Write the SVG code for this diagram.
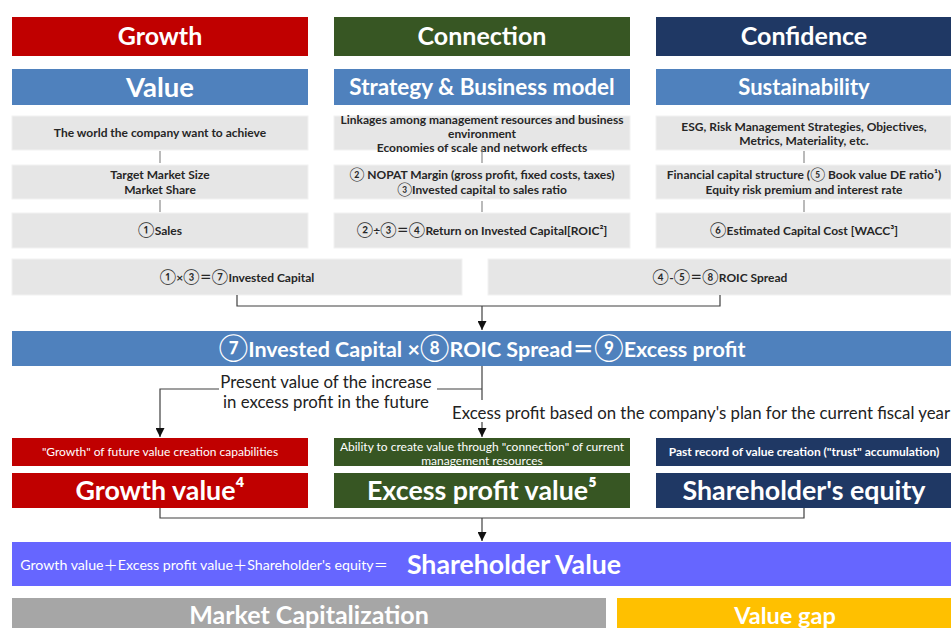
<svg xmlns="http://www.w3.org/2000/svg" width="951" height="628" viewBox="0 0 951 628">
<defs>
<marker id="arr" viewBox="0 0 10 10" refX="10" refY="5" markerWidth="9" markerHeight="9" markerUnits="userSpaceOnUse" orient="auto">
<path d="M0,0 L10,5 L0,10 z" fill="#111"/>
</marker>
<style>
text{font-family:Lato,"Liberation Sans","Noto Sans CJK JP",sans-serif;text-anchor:middle}
.w{fill:#fff;font-weight:bold}
.g{fill:#262626;font-weight:bold;font-size:12px}
.c{font-size:112%;font-weight:normal}
.cb{font-size:125%;font-weight:normal}
.gray{fill:#e6e6e6;stroke:#f2f2f2;stroke-width:1}
.red{fill:#c00000}
.grn{fill:#375623}
.nvy{fill:#1f3864}
.blu{fill:#4f81bd}
.con{fill:none;stroke:#404040;stroke-width:1.2}
.stub{stroke:#8c8c8c;stroke-width:1.2}
.lbl{fill:#222;font-size:16.8px}
.sub{fill:#fff;font-size:12px}
</style>
</defs>
<rect width="951" height="628" fill="#fff"/>

<g id="growth-header"><rect class="red" x="12" y="17" width="296" height="39"/><text class="w" x="160" y="45" font-size="25">Growth</text></g>
<g id="connection-header"><rect class="grn" x="334" y="17" width="296" height="39"/><text class="w" x="482" y="45" font-size="25">Connection</text></g>
<g id="confidence-header"><rect class="nvy" x="656" y="17" width="295" height="39"/><text class="w" x="804" y="45" font-size="25">Confidence</text></g>

<g id="value-header"><rect class="blu" x="12" y="69" width="296" height="36"/><text class="w" x="160" y="97" font-size="27.5">Value</text></g>
<g id="strategy-header"><rect class="blu" x="334" y="69" width="296" height="36"/><text class="w" x="482" y="95" font-size="22.5">Strategy &amp; Business model</text></g>
<g id="sustainability-header"><rect class="blu" x="656" y="69" width="295" height="36"/><text class="w" x="804" y="95" font-size="22">Sustainability</text></g>

<g id="world"><rect class="gray" x="12" y="116" width="296" height="34"/><text class="g" x="160" y="137">The world the company want to achieve</text></g>
<g id="linkages"><rect class="gray" x="334" y="116" width="296" height="34"/><text class="g" x="482" y="124">Linkages among management resources and business</text><text class="g" x="482" y="138">environment</text><text class="g" x="482" y="152">Economies of scale and network effects</text></g>
<g id="esg"><rect class="gray" x="656" y="116" width="295" height="34"/><text class="g" x="804" y="131">ESG, Risk Management Strategies, Objectives,</text><text class="g" x="804" y="145">Metrics, Materiality, etc.</text></g>

<g id="market"><rect class="gray" x="12" y="165" width="296" height="34"/><text class="g" x="160" y="179">Target Market Size</text><text class="g" x="160" y="194">Market Share</text></g>
<g id="nopat"><rect class="gray" x="334" y="165" width="296" height="34"/><text class="g" x="482" y="179"><tspan class="c">②</tspan> NOPAT Margin (gross profit, fixed costs, taxes)</text><text class="g" x="482" y="194"><tspan class="c">③</tspan>Invested capital to sales ratio</text></g>
<g id="capital-structure"><rect class="gray" x="656" y="165" width="295" height="34"/><text class="g" x="804" y="179">Financial capital structure (<tspan class="c">⑤</tspan> Book value DE ratio¹)</text><text class="g" x="804" y="194">Equity risk premium and interest rate</text></g>

<g id="sales"><rect class="gray" x="12" y="213" width="296" height="35"/><text class="g" x="160" y="235"><tspan class="cb">①</tspan>Sales</text></g>
<g id="roic"><rect class="gray" x="334" y="213" width="296" height="35"/><text class="g" x="482" y="235"><tspan class="cb">②</tspan>÷<tspan class="cb">③</tspan>＝<tspan class="cb">④</tspan>Return on Invested Capital[ROIC²]</text></g>
<g id="wacc"><rect class="gray" x="656" y="213" width="295" height="35"/><text class="g" x="804" y="235"><tspan class="cb">⑥</tspan>Estimated Capital Cost [WACC³]</text></g>

<g id="invested-capital"><rect class="gray" x="12" y="259" width="450" height="36"/><text class="g" x="237" y="282" font-size="12.5"><tspan class="cb">①</tspan>×<tspan class="cb">③</tspan>＝<tspan class="cb">⑦</tspan>Invested Capital</text></g>
<g id="roic-spread"><rect class="gray" x="488" y="259" width="463" height="36"/><text class="g" x="720" y="282" font-size="12.5"><tspan class="cb">④</tspan>-<tspan class="cb">⑤</tspan>＝<tspan class="cb">⑧</tspan>ROIC Spread</text></g>

<g id="excess-profit"><rect class="blu" x="12" y="331" width="939" height="35"/><text class="w" x="482" y="357" font-size="21.5"><tspan class="cb">⑦</tspan>Invested Capital ×<tspan class="cb">⑧</tspan>ROIC Spread＝<tspan class="cb">⑨</tspan>Excess profit</text></g>

<g id="growth-sub"><rect class="red" x="12" y="438" width="296" height="28"/><text class="sub" x="160" y="456">"Growth" of future value creation capabilities</text></g>
<g id="excess-sub"><rect class="grn" x="334" y="438" width="296" height="28"/><text class="sub" x="482" y="451">Ability to create value through "connection" of current</text><text class="sub" x="482" y="465">management resources</text></g>
<g id="equity-sub"><rect class="nvy" x="656" y="438" width="295" height="28"/><text class="sub" x="804" y="456" font-weight="bold">Past record of value creation ("trust" accumulation)</text></g>

<g id="growth-value"><rect class="red" x="12" y="473" width="296" height="35"/><text class="w" x="160" y="500" font-size="26.8">Growth value⁴</text></g>
<g id="excess-value"><rect class="grn" x="334" y="473" width="296" height="35"/><text class="w" x="482" y="500" font-size="26.8">Excess profit value⁵</text></g>
<g id="equity"><rect class="nvy" x="656" y="473" width="295" height="35"/><text class="w" x="804" y="500" font-size="26.8">Shareholder's equity</text></g>

<g id="shareholder-value"><rect x="12" y="542" width="939" height="44" fill="#6666ff"/><text x="204" y="570" font-size="14.2" fill="#fff">Growth value＋Excess profit value＋Shareholder's equity＝</text><text class="w" x="514" y="574" font-size="26.7">Shareholder Value</text></g>

<g id="market-cap"><rect x="12" y="598" width="594" height="30" fill="#a6a6a6"/><text class="w" x="309" y="624" font-size="25">Market Capitalization</text></g>
<g id="value-gap"><rect x="617" y="598" width="334" height="30" fill="#ffc000"/><text class="w" x="785" y="624" font-size="23.5">Value gap</text></g>

<g id="connectors">
<line class="stub" x1="160" y1="151" x2="160" y2="163"/>
<line class="stub" x1="160" y1="200" x2="160" y2="212"/>
<line class="stub" x1="482" y1="147" x2="482" y2="163"/>
<line class="stub" x1="482" y1="201" x2="482" y2="212"/>
<line class="stub" x1="804" y1="151" x2="804" y2="163"/>
<line class="stub" x1="804" y1="200" x2="804" y2="212"/>
<path class="con" d="M237,295 V306 H720 V295"/>
<line class="con" x1="482" y1="306" x2="482" y2="330" marker-end="url(#arr)"/>
<path class="con" d="M482,366 V400"/>
<path class="con" d="M482,389 H437 M219,389 H160 V437" marker-end="url(#arr)"/>
<line class="con" x1="482" y1="422" x2="482" y2="437" marker-end="url(#arr)"/>
<path class="con" d="M160,508 V518 H804 V508"/>
<line class="con" x1="482" y1="518" x2="482" y2="541" marker-end="url(#arr)"/>
</g>

<g id="connector-labels">
<text class="lbl" x="326" y="388">Present value of the increase</text>
<text class="lbl" x="326" y="408">in excess profit in the future</text>
<rect x="450" y="402" width="501" height="20" fill="#fff"/>
<text class="lbl" x="701" y="419">Excess profit based on the company's plan for the current fiscal year</text>
</g>
</svg>
